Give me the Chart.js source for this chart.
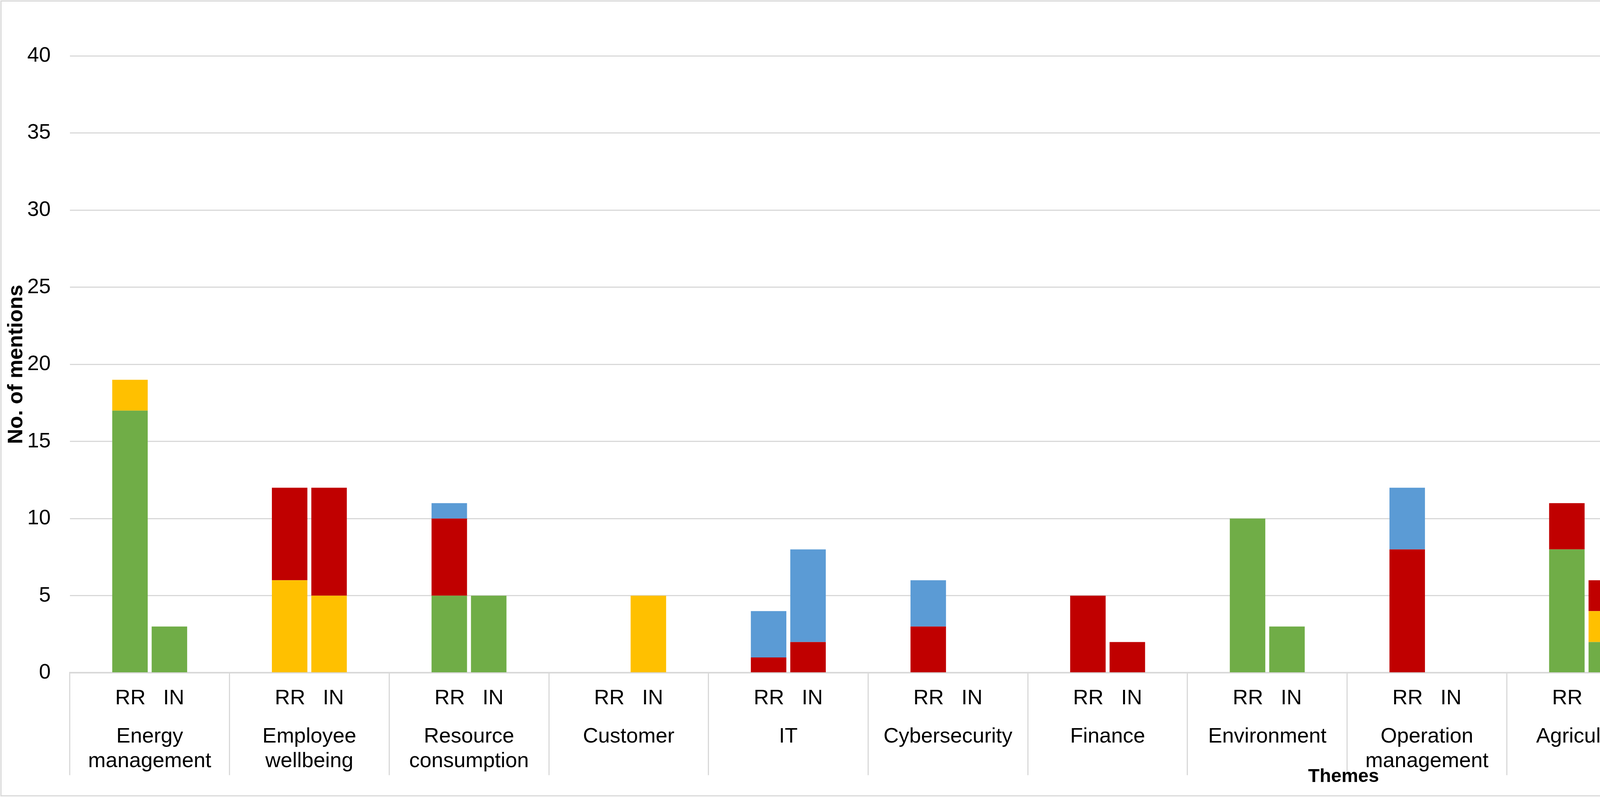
<!DOCTYPE html>
<html>
<head>
<meta charset="utf-8">
<script src="https://cdn.jsdelivr.net/npm/chart.js@4.4.1/dist/chart.umd.min.js"></script>
<style>
  html, body { margin: 0; padding: 0; background: #fff; }
  #wrap { position: relative; width: 7200px; height: 2044px; }
  #frame { position: absolute; left: 1px; top: 1px; width: 7194px; height: 2039px;
           box-sizing: border-box; border: 3px solid #d9d9d9; pointer-events: none; }
</style>
</head>
<body>
<div id="wrap">
  <canvas id="chart"></canvas>
  <div id="frame"></div>
</div>
<script>
// themes (x axis groups)
const themes = [
    ["Energy", "management"], ["Employee", "wellbeing"], ["Resource", "consumption"],
    "Customer", "IT", "Cybersecurity", "Finance", "Environment",
    ["Operation", "management"], "Agriculture", ["Disaster", "prediction"],
    "Education", ["Food and", "nutrition"], "Healthcare", "Manufacturing",
    ["Public", "administration"], "Urban planning"
];
// the two bars inside each theme
const stackLabels = ["RR", "IN"];

const seriesNames = ["Environmental", "Social", "Economic", "Technical"];
const seriesColors = ["#70AD47", "#FFC000", "#C00000", "#5B9BD5"];

// RR bars
const envRR = [17, 0, 5, 0, 0, 0, 0, 10, 0, 8, 1, 0, 0, 0, 10, 1, 8];
const socRR = [2, 6, 0, 0, 0, 0, 0, 0, 0, 0, 3, 9, 2, 34, 0, 7, 1];
const ecoRR = [0, 6, 5, 0, 1, 3, 5, 0, 8, 3, 3, 0, 0, 3, 7, 2, 1];
const tecRR = [0, 0, 1, 0, 3, 3, 0, 0, 4, 0, 0, 0, 0, 0, 0, 0, 0];

// IN bars
const envIN = [3, 0, 5, 0, 0, 0, 0, 3, 0, 2, 0, 0, 0, 0, 0, 0, 2];
const socIN = [0, 5, 0, 5, 0, 0, 0, 0, 0, 2, 0, 1, 0, 3, 0, 0, 0];
const ecoIN = [0, 7, 0, 0, 2, 0, 2, 0, 0, 2, 0, 0, 0, 0, 0, 0, 0];
const tecIN = [0, 0, 0, 0, 6, 0, 0, 0, 0, 0, 0, 0, 0, 0, 0, 0, 0];

const yTicks = { min: 0, max: 40, step: 5 };

const FONT = "'Liberation Sans', Arial, sans-serif";
const GRID = "#d9d9d9";

const rrData = [envRR, socRR, ecoRR, tecRR];
const inData = [envIN, socIN, ecoIN, tecIN];

const datasets = [];
[["RR", rrData], ["IN", inData]].forEach(([stack, arr]) => {
    seriesNames.forEach((name, i) => {
        datasets.push({
            label: name,
            data: arr[i],
            stack: stack,
            backgroundColor: seriesColors[i],
            borderWidth: 0,
            categoryPercentage: 0.494,
            barPercentage: 0.9
        });
    });
});

// legend: a bit more room below it, and pulled in from the right edge
const legendTweak = {
    id: "legendTweak",
    beforeInit(chart) {
        const fit = chart.legend.fit;
        chart.legend.fit = function () {
            fit.call(this);
            this.height += 14;
        };
    },
    afterLayout(chart) {
        chart.legend.right -= 201;
    }
};

const ctx = document.getElementById("chart").getContext("2d");
new Chart(ctx, {
    type: "bar",
    data: { labels: themes, datasets: datasets },
    plugins: [legendTweak],
    options: {
        responsive: true,
        maintainAspectRatio: false,
        devicePixelRatio: 1,
        animation: false,
        layout: { padding: { left: 0, right: 73, top: 3, bottom: 25 } },
        plugins: {
            tooltip: { enabled: false },
            legend: {
                position: "top",
                align: "end",
                labels: {
                    boxWidth: 27,
                    boxHeight: 27,
                    padding: 62,
                    color: "#000",
                    font: { family: FONT, size: 54, weight: "bold" },
                    filter: (item) => item.datasetIndex < seriesNames.length
                }
            }
        },
        scales: {
            // RR / IN row; mirror keeps the labels unclipped while the axis takes no height
            x: {
                type: "category",
                stacked: true,
                offset: true,
                weight: 0,
                border: { display: true, color: GRID, width: 4 },
                grid: { offset: true, drawOnChartArea: false, drawTicks: true,
                        tickLength: 194, tickColor: "rgba(0,0,0,0)", lineWidth: 3 },
                ticks: {
                    autoSkip: false, maxRotation: 0, minRotation: 0,
                    mirror: true,
                    padding: -97,
                    color: "#000",
                    font: { family: FONT, size: 54, lineHeight: 63 / 54 },
                    callback: () => stackLabels.join("   ")
                }
            },
            // theme names, with the separators between groups
            x2: {
                type: "category",
                position: "bottom",
                offset: true,
                weight: 1,
                border: { display: false },
                grid: { offset: true, drawOnChartArea: false, drawTicks: true,
                        tickLength: 262, color: GRID, lineWidth: 3 },
                ticks: {
                    autoSkip: false, maxRotation: 0, minRotation: 0,
                    mirror: true,
                    padding: -195.5,
                    color: "#000",
                    font: { family: FONT, size: 54, lineHeight: 63 / 54 }
                },
                title: {
                    display: true,
                    // trailing spaces push the centred word left, like the original
                    text: "Themes" + " ".repeat(32),
                    color: "#000",
                    font: { family: FONT, size: 48, weight: "bold", lineHeight: 1.2 },
                    padding: { top: 367, bottom: 0 }
                }
            },
            y: {
                stacked: true,
                min: yTicks.min,
                max: yTicks.max,
                border: { display: false },
                grid: { color: GRID, lineWidth: 3, drawTicks: false },
                ticks: {
                    stepSize: yTicks.step,
                    padding: 49,
                    color: "#000",
                    font: { family: FONT, size: 54 }
                },
                title: {
                    display: true,
                    text: "No. of mentions",
                    color: "#000",
                    font: { family: FONT, size: 54, weight: "bold", lineHeight: 1.2 },
                    padding: { top: 10, bottom: -54 }
                }
            }
        }
    }
});
</script>
</body>
</html>
